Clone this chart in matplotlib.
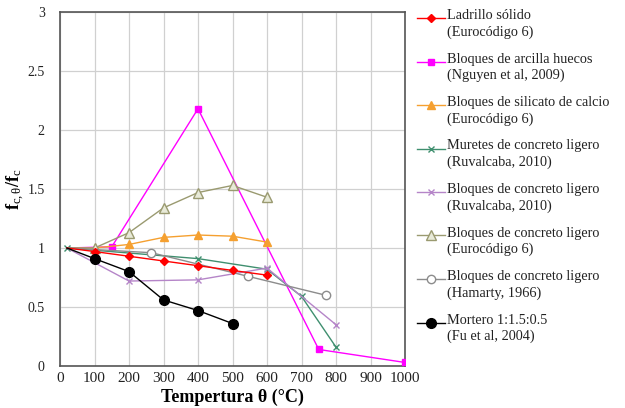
import matplotlib
matplotlib.use("Agg")
import matplotlib.pyplot as plt
from matplotlib.lines import Line2D

plt.rcParams['font.family'] = ['Liberation Serif', 'DejaVu Serif']
plt.rcParams['mathtext.fontset'] = 'custom'
plt.rcParams['mathtext.rm'] = 'Liberation Serif'
plt.rcParams['mathtext.bf'] = 'Liberation Serif:bold'
plt.rcParams['mathtext.it'] = 'Liberation Serif:italic'

# Data
lad_x = [20, 100, 200, 300, 400, 500, 600]
lad_y = [1.0, 0.97, 0.93, 0.89, 0.85, 0.81, 0.77]

arc_x = [20, 150, 400, 750, 1000]
arc_y = [1.0, 1.01, 2.18, 0.14, 0.03]

sil_x = [20, 100, 200, 300, 400, 500, 600]
sil_y = [1.0, 1.0, 1.03, 1.09, 1.11, 1.10, 1.05]

mur_x = [20, 400, 600, 700, 800]
mur_y = [1.0, 0.91, 0.82, 0.59, 0.16]

ruv_x = [20, 200, 400, 600, 800]
ruv_y = [1.0, 0.72, 0.73, 0.83, 0.35]

euro_x = [20, 100, 200, 300, 400, 500, 600]
euro_y = [1.0, 1.0, 1.13, 1.34, 1.47, 1.53, 1.43]

ham_x = [20, 265, 545, 770]
ham_y = [1.0, 0.96, 0.76, 0.60]

mor_x = [20, 100, 200, 300, 400, 500]
mor_y = [1.0, 0.91, 0.80, 0.56, 0.47, 0.36]

labels = [
    "Ladrillo sólido\n(Eurocódigo 6)",
    "Bloques de arcilla huecos\n(Nguyen et al, 2009)",
    "Bloques de silicato de calcio\n(Eurocódigo 6)",
    "Muretes de concreto ligero\n(Ruvalcaba, 2010)",
    "Bloques de concreto ligero\n(Ruvalcaba, 2010)",
    "Bloques de concreto ligero\n(Eurocódigo 6)",
    "Bloques de concreto ligero\n(Hamarty, 1966)",
    "Mortero 1:1.5:0.5\n(Fu et al, 2004)",
]

x_ticks = [0, 100, 200, 300, 400, 500, 600, 700, 800, 900, 1000]
y_ticks = [0, 0.5, 1, 1.5, 2, 2.5, 3]

W, H = 625, 408
fig = plt.figure(figsize=(W / 100, H / 100), dpi=100)
ax = fig.add_axes([60 / W, 1 - 366 / H, 345 / W, 354 / H])

lw = 1.0
styles = [
    dict(color='#ff0000', marker='D', ms=4.5),
    dict(color='#ff00ff', marker='s', ms=5),
    dict(color='#f5a030', marker='^', ms=6),
    dict(color='#3f8f6f', marker='x', ms=5, mew=1.0),
    dict(color='#b585c8', marker='x', ms=5, mew=1.0),
    dict(color='#9a9a70', marker='^', ms=6.5, mfc='#e8ead8'),
    dict(color='#8c8c8c', marker='o', ms=6, mfc='white'),
    dict(color='#000000', marker='o', ms=7),
]
series = [(lad_x, lad_y), (arc_x, arc_y), (sil_x, sil_y), (mur_x, mur_y),
          (ruv_x, ruv_y), (euro_x, euro_y), (ham_x, ham_y), (mor_x, mor_y)]
zorders = [5, 4, 4, 4, 4, 4, 4, 6]

for i, ((xs, ys), st) in enumerate(zip(series, styles)):
    mev = list(range(len(xs))) if i == 3 else list(range(1, len(xs)))
    ax.plot(xs, ys, lw=lw, markevery=mev, zorder=zorders[i], **st)

ax.set_xlim(0, 1000)
ax.set_ylim(0, 3)
ax.set_xticks(x_ticks)
ax.set_xticklabels([str(v) for v in x_ticks])
ax.set_yticks(y_ticks)
ax.set_yticklabels(['0', '0.5', '1', '1.5', '2', '2.5', '3'])
ax.tick_params(axis='x', length=0, labelsize=11, pad=4, colors='#222222')
ax.tick_params(axis='y', length=0, labelsize=10, pad=11, colors='#222222')
ax.grid(True, color='#d0d0d0', lw=0.9)
ax.set_axisbelow(True)
for s in ax.spines.values():
    s.set_color('#555555')
    s.set_linewidth(1.2)

ax.set_xlabel('Tempertura θ (°C)', fontsize=13, fontweight='bold', labelpad=3)
ax.set_ylabel(r'$\mathbf{f}_{\mathrm{c,\theta}}\mathbf{/f}_{\mathrm{c}}$', fontsize=13)
ax.yaxis.set_label_coords(-0.095, 0.5)

# Legend (manual, handle aligned with first text line)
for i, (lab, st) in enumerate(zip(labels, styles)):
    y0 = 18 + 43.5 * i
    yf = 1 - y0 / H
    fig.add_artist(Line2D([417 / W, 431 / W, 445 / W], [yf, yf, yf],
                          transform=fig.transFigure, lw=lw, markevery=[1], **st))
    fig.text(447 / W, 1 - (y0 - 9) / H, lab, fontsize=10.3, va='top', ha='left',
             color='#222222', linespacing=1.3)

fig.savefig('out.png', dpi=100)
